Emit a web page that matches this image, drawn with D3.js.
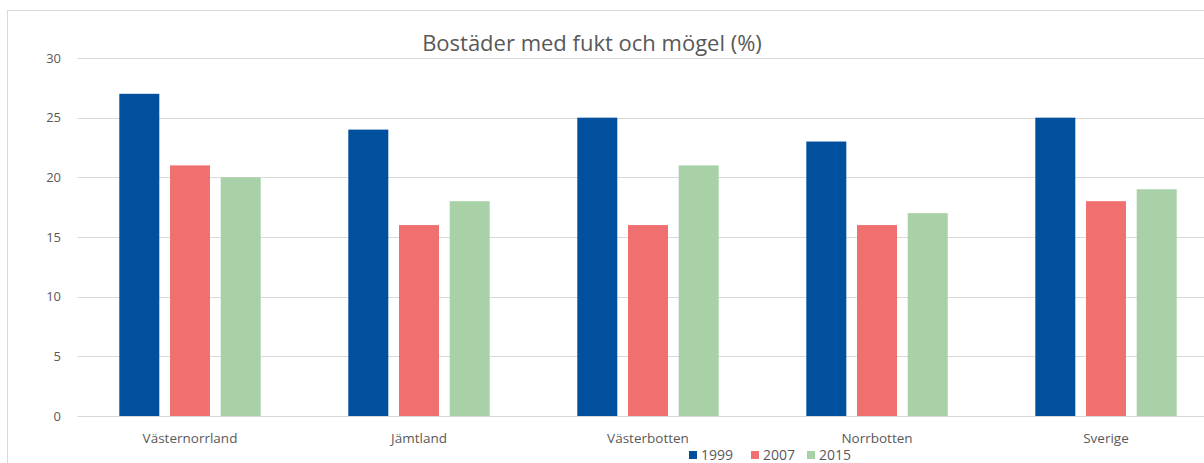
<!DOCTYPE html>
<html>
<head>
<meta charset="utf-8">
<script src="https://cdn.jsdelivr.net/npm/d3@7"></script>
<style>
  body { margin: 0; background: #fff; }
  svg { font-family: "Open Sans", "Noto Sans", sans-serif; }
</style>
</head>
<body>
<svg id="chart"></svg>
<script>
// Data
const categories = ["Västernorrland", "Jämtland", "Västerbotten", "Norrbotten", "Sverige"];
const years = ["1999", "2007", "2015"];
const values1999 = [27, 24, 25, 23, 25];
const values2007 = [21, 16, 16, 16, 18];
const values2015 = [20, 18, 21, 17, 19];
const yTicks = [0, 5, 10, 15, 20, 25, 30];
const colors = ["#00509E", "#F07070", "#A8D1A8"];

const seriesValues = [values1999, values2007, values2015];

const W = 1204, H = 463;
const plot = { left: 75.5, right: 1220.5, top: 58, bottom: 416 };

const svg = d3.select("#chart").attr("width", W).attr("height", H);

// chart frame (right side runs off the picture)
svg.append("rect")
  .attr("x", 7.5).attr("y", 10.5)
  .attr("width", 1300).attr("height", 480)
  .attr("fill", "none")
  .attr("stroke", "#d9d9d9");

const x = d3.scaleBand().domain(categories).range([plot.left, plot.right]);
const y = d3.scaleLinear().domain([0, 30]).range([plot.bottom, plot.top]);

const barW = 40, barStep = 50.7;
const xSub = d3.scaleBand().domain(years).range([0, 3 * barStep - (barStep - barW)]).paddingInner((barStep - barW) / barStep);

// gridlines
svg.append("g")
  .selectAll("line")
  .data(yTicks)
  .join("line")
  .attr("x1", plot.left + 2).attr("x2", W)
  .attr("y1", (d) => Math.round(y(d)) + 0.5)
  .attr("y2", (d) => Math.round(y(d)) + 0.5)
  .attr("stroke", "#d9d9d9")
  .attr("stroke-width", 1.2);

// y axis labels
svg.append("g")
  .selectAll("text")
  .data(yTicks)
  .join("text")
  .attr("x", 61)
  .attr("y", (d) => y(d))
  .attr("dy", "0.35em")
  .attr("text-anchor", "end")
  .attr("font-size", 13)
  .attr("fill", "#595959")
  .text((d) => d);

// bars
const groupW = 3 * barW + 2 * (barStep - barW);
const groups = svg.append("g")
  .selectAll("g")
  .data(categories)
  .join("g")
  .attr("transform", (d) => `translate(${x(d) + x.bandwidth() / 2 - groupW / 2},0)`);

groups.selectAll("rect")
  .data((d, i) => years.map((yr, s) => ({ yr, s, v: seriesValues[s][i] })))
  .join("rect")
  .attr("x", (d) => xSub(d.yr))
  .attr("width", xSub.bandwidth())
  .attr("y", (d) => y(d.v))
  .attr("height", (d) => y(0) - y(d.v))
  .attr("fill", (d) => colors[d.s]);

// category labels
svg.append("g")
  .selectAll("text")
  .data(categories)
  .join("text")
  .attr("x", (d) => x(d) + x.bandwidth() / 2)
  .attr("y", 443)
  .attr("text-anchor", "middle")
  .attr("font-size", 13.5)
  .attr("fill", "#595959")
  .text((d) => d);

// title
svg.append("text")
  .attr("x", 592)
  .attr("y", 51)
  .attr("text-anchor", "middle")
  .attr("font-size", 22)
  .attr("fill", "#595959")
  .text("Bostäder med fukt och mögel (%)");

// legend
const legendX = [689, 751, 807];
const legend = svg.append("g")
  .selectAll("g")
  .data(years)
  .join("g")
  .attr("transform", (d, i) => `translate(${legendX[i]},455)`);
legend.append("rect")
  .attr("x", 0).attr("y", -4)
  .attr("width", 8).attr("height", 8)
  .attr("fill", (d, i) => colors[i]);
legend.append("text")
  .attr("x", 12)
  .attr("dy", "0.35em")
  .attr("font-size", 14)
  .attr("fill", "#595959")
  .text((d) => d);
</script>
</body>
</html>
